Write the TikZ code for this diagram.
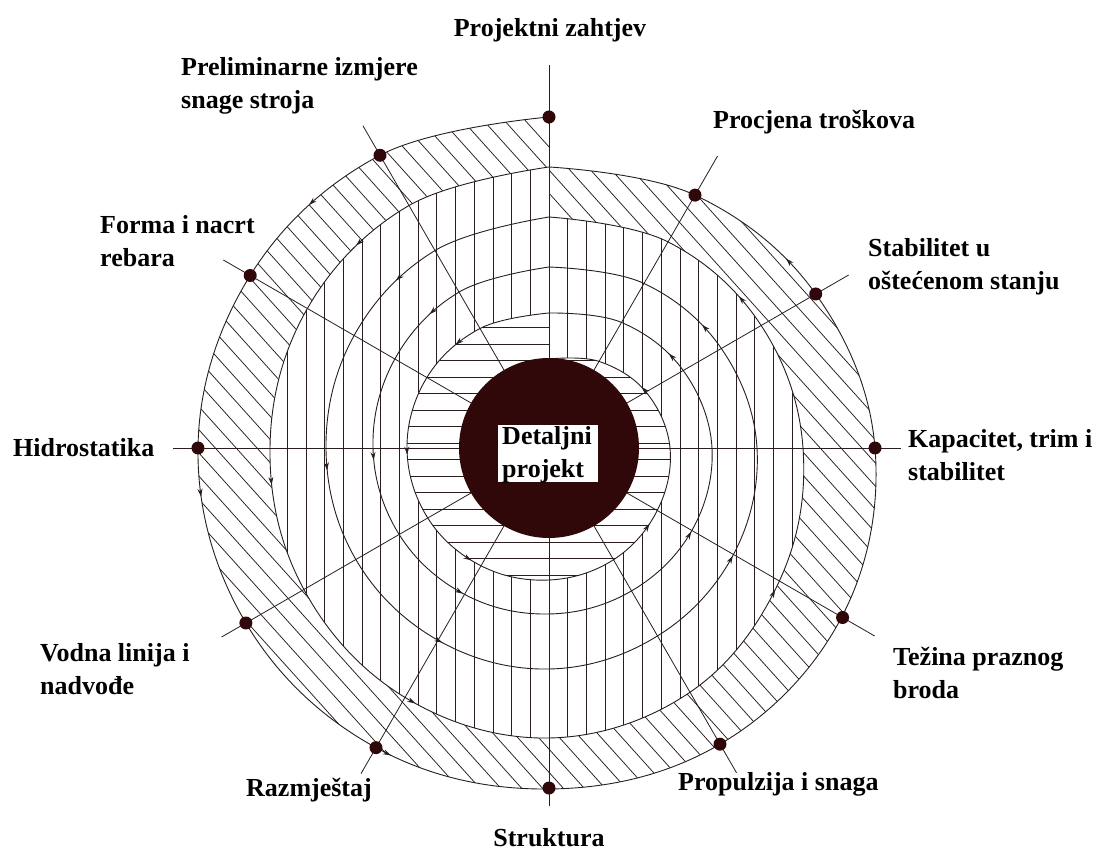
\documentclass[tikz,border=0pt]{standalone}
\usepackage{fontspec}
\setmainfont{Liberation Serif}
\usetikzlibrary{decorations.markings,arrows.meta}
\definecolor{ink}{RGB}{40,30,30}
\definecolor{discred}{RGB}{48,8,10}
\def\turnA{(90:331) (120:338) (150:345) (180:351) (210:350) (240:346) (270:341) (300:342) (330:338) (360:326) (390:308) (420:292) (450:281)}
\def\turnB{(450:281) (480:280) (510:279) (540:279) (570:283) (600:288) (630:290) (660:282) (690:266) (720:254) (750:245) (780:238) (810:231)}
\def\turnC{(810:231) (840:228) (870:225) (900:223) (930:223) (960:222) (990:221) (1020:217) (1050:213) (1080:208) (1110:199) (1140:190) (1170:181)}
\def\turnD{(1170:181) (1200:180) (1230:178) (1260:176) (1290:173) (1320:169) (1350:166) (1380:165) (1410:165) (1440:163) (1470:155) (1500:145) (1530:135)}
\def\turnE{(1530:135) (1560:138) (1590:141) (1620:142) (1650:140) (1680:136) (1710:132) (1740:129) (1770:125) (1800:121) (1830:112) (1860:100) (1890:89)}
\newcommand\spiralTip{\arrow{Stealth[length=8pt,width=5pt]}}
\tikzset{
  hatch/.style={draw=ink, line width=0.75pt},
  spiral/.style={draw=ink, line width=0.9pt, postaction={decorate},
    decoration={markings,
      mark=at position 0.125 with {\spiralTip},
      mark=at position 0.28 with {\spiralTip},
      mark=at position 0.44 with {\spiralTip},
      mark=at position 0.69 with {\spiralTip},
      mark=at position 0.875 with {\spiralTip}}},
  spoke/.style={draw=ink, line width=0.8pt},
  dot/.style={circle, fill=discred, inner sep=0pt, minimum size=13pt},
  lbl/.style={font=\fontsize{26}{33}\selectfont\bfseries, inner sep=0pt, align=left, text=black},
}
\begin{document}
\begin{tikzpicture}[x=1pt,y=1pt]
\fill[white] (-549,-411) rectangle (550,448);
\useasboundingbox (-549,-411) rectangle (550,448);
\coordinate (O) at (0,0);
\edef\pTurnA{plot[smooth,tension=0.64] coordinates {\turnA}}
\edef\pTurnB{plot[smooth,tension=0.64] coordinates {\turnB}}
\edef\pTurnC{plot[smooth,tension=0.64] coordinates {\turnC}}
\edef\pTurnD{plot[smooth,tension=0.64] coordinates {\turnD}}
\edef\pTurnE{plot[smooth,tension=0.64] coordinates {\turnE}}
% diagonal band
\begin{scope}
  \clip \pTurnA -- cycle;
  \begin{scope}[rotate=-48]
    \foreach \k in {-25,...,25} \draw[hatch] (-420,\k*15.5) -- (420,\k*15.5);
  \end{scope}
\end{scope}
% vertical zone
\fill[white] \pTurnB -- cycle;
\begin{scope}
  \clip \pTurnB -- cycle;
  \foreach \k in {-19,...,19} \draw[hatch] (\k*18.7,-300) -- (\k*18.7,300);
\end{scope}
% horizontal zone
\fill[white] \pTurnE -- cycle;
\begin{scope}
  \clip \pTurnE -- cycle;
  \foreach \k in {-12,...,8} \draw[hatch] (-160,38+\k*16.5) -- (160,38+\k*16.5);
\end{scope}
% spiral
\draw[spiral] \pTurnA;
\draw[spiral] \pTurnB;
\draw[spiral] \pTurnC;
\draw[spiral] \pTurnD;
\draw[spiral] \pTurnE;
% spokes
\foreach \myang/\mydot/\myend [count=\i from 0] in {0/331/383, 30/338/372, 60/345/376, 90/351/376, 120/350/378, 150/346/376, 180/340/358, 210/342/375, 240/339/376, 270/326/352, 300/307/346, 330/291/337}{
  \coordinate (e\i) at ({90+\myang}:\myend);
  \draw[spoke] (O) -- (e\i);
}
% centre disc
\fill[discred] (O) circle (90);
% dots
\foreach \myang/\mydot [count=\i from 0] in {0/331, 30/338, 60/345, 90/351, 120/350, 150/346, 180/340, 210/342, 240/339, 270/326, 300/308, 330/292}{
  \node[dot] (d\i) at ({90+\myang}:\mydot) {};
}
% centre label
\node[fill=white, minimum width=100pt, minimum height=57pt, inner sep=0pt] (dbox) at (-1,-5.5) {};
\node[lbl, anchor=center] (dtext) at (-2,-7) {Detaljni\\projekt};
% labels
\node[lbl, anchor=center] (l0) at (1,418) {Projektni zahtjev};
\node[lbl, anchor=west] (l1) at (-368,362) {Preliminarne izmjere\\snage stroja};
\node[lbl, anchor=west] (l11) at (164,326) {Procjena troškova};
\node[lbl, anchor=west] (l10) at (319,181) {Stabilitet u\\oštećenom stanju};
\node[lbl, anchor=west] (l2) at (-449,207) {Forma i nacrt\\rebara};
\node[lbl, anchor=west] (l3) at (-536,0) {Hidrostatika};
\node[lbl, anchor=west] (l9) at (359,-7) {Kapacitet, trim i\\stabilitet};
\node[lbl, anchor=west] (l4) at (-509,-221) {Vodna linija i\\nadvođe};
\node[lbl, anchor=west] (l8) at (344,-225) {Težina praznog\\broda};
\node[lbl, anchor=west] (l5) at (-303,-342) {Razmještaj};
\node[lbl, anchor=west] (l7) at (129,-336) {Propulzija i snaga};
\node[lbl, anchor=center] (l6) at (0,-390) {Struktura};
\end{tikzpicture}
\end{document}
